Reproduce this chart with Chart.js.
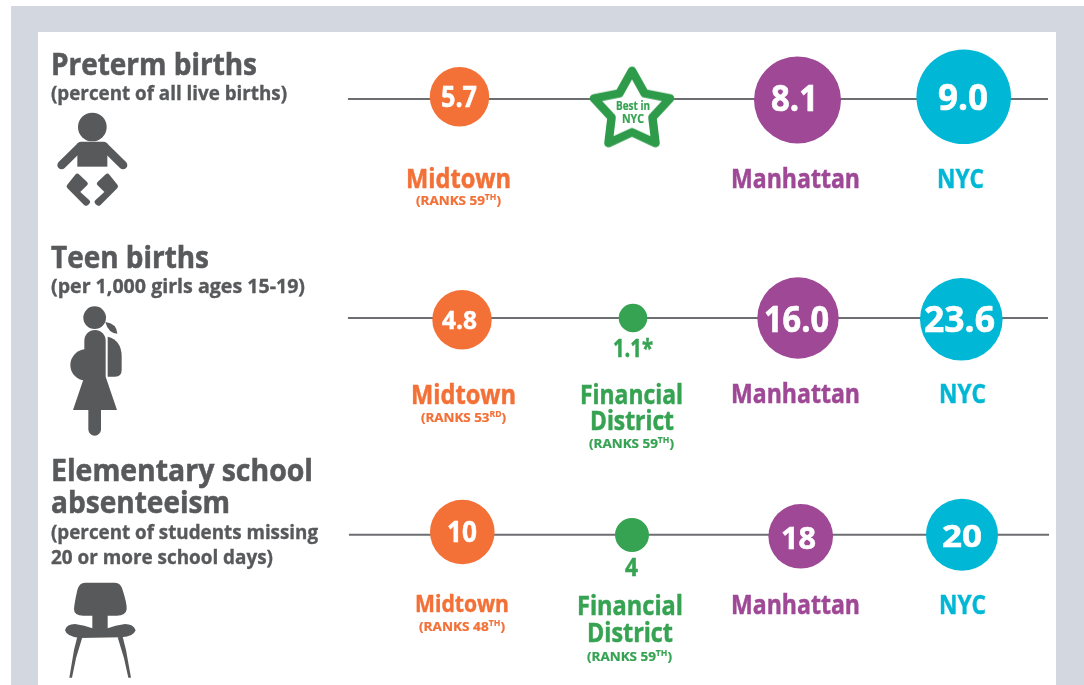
<!DOCTYPE html>
<html>
<head>
<meta charset="utf-8">
<script src="https://cdn.jsdelivr.net/npm/chart.js@4"></script>
<style>
	html, body { margin: 0; padding: 0; background: #fff; overflow: hidden; }
	#panel { position: absolute; left: 11px; top: 6px; width: 1073px; height: 679px; background: #d3d7df; }
	#card { position: absolute; left: 38px; top: 32px; width: 1018px; height: 653px; background: #fff; }
	canvas { position: absolute; left: 0; top: 0; }
</style>
</head>
<body>
<div id="panel"></div>
<div id="card"></div>
<canvas id="chart" width="1084" height="685"></canvas>
<script>
// chart values, null = not a number in the source (shown as the star)
const categories = ['Midtown', 'Financial District', 'Manhattan', 'NYC'];
const pretermBirths = [5.7, null, 8.1, 9.0];
const teenBirths = [4.8, 1.1, 16.0, 23.6];
const absenteeism = [10, 4, 18, 20];
const valueDigits = [1, 1, 0];

// styles and layout, kept apart from the values
const colors = ['#f37037', '#36a352', '#9e4896', '#00b7d5'];
const grey = '#58595b';
const bubbleRadius = [
	[29.7, 0, 43.5, 47.3],
	[29.7, 14.3, 40.7, 41.3],
	[32.3, 17, 32.3, 36],
];
// hand placed offsets in px, the original is not on a strict grid
const bubbleNudge = [
	[[-1.5, -2], [4, 12], [2.5, 1.3], [1.7, -1.9]],
	[[1, 3], [5, 1.3], [3, 1.3], [-0.7, 2.6]],
	[[1.3, -2.7], [4, 0.3], [5.7, 1.6], [0, 0.1]],
];
const lineNudge = [0.3, 1.3, 0];
const lineFrom = [-0.677, -0.677, -0.671];
const lineTo = [3.515, 3.515, 3.521];
const font = '"Open Sans", sans-serif';

// x: column 0 sits at 461px, 167px per column. y: row 0 sits at 98.7px, 218px per row
const xScale = { type: 'linear', display: false, min: -461 / 167, max: (1084 - 461) / 167 };
const yScale = { type: 'linear', display: false, reverse: true, min: -98.7 / 218, max: (685 - 98.7) / 218 };

const rows = [pretermBirths, teenBirths, absenteeism];

const makeStar = () => {
	const c = document.createElement('canvas');
	c.width = 100;
	c.height = 100;
	const g = c.getContext('2d');
	g.beginPath();
	for (let i = 0; i < 10; i++) {
		const r = i % 2 ? 21.5 : 40;
		const a = -Math.PI / 2 + i * Math.PI / 5;
		const px = 50 + r * Math.cos(a);
		const py = 50 + r * Math.sin(a);
		if (i === 0) g.moveTo(px, py);
		else g.lineTo(px, py);
	}
	g.closePath();
	g.fillStyle = '#fff';
	g.fill();
	g.lineWidth = 8.5;
	g.lineJoin = 'round';
	g.strokeStyle = '#2e9b4a';
	g.stroke();
	return c;
};

const datasets = [];
rows.forEach((values, row) => {
	datasets.push({
		type: 'bubble',
		order: 1,
		nudge: bubbleNudge[row],
		data: values.map((v, col) => ({ x: col, y: row, r: v === null ? 0 : bubbleRadius[row][col] })),
		backgroundColor: colors,
		borderWidth: 0,
	});
	datasets.push({
		type: 'line',
		order: 3,
		nudge: [[0, lineNudge[row]], [0, lineNudge[row]]],
		data: [{ x: lineFrom[row], y: row }, { x: lineTo[row], y: row }],
		borderColor: '#6d6e71',
		borderWidth: 2,
		pointRadius: 0,
	});
});
// the star for "Best in NYC"
datasets.push({
	type: 'line',
	order: 0,
	showLine: false,
	nudge: [bubbleNudge[0][1]],
	data: [{ x: 1, y: 0 }],
	pointStyle: makeStar(),
	pointRadius: 40,
});

// text helper: squeeze a string to the left/right it has in the picture
// the thin stroke brings Open Sans Bold closer to the weight of the original
const fit = (ctx, text, left, right, base, size, color) => {
	ctx.save();
	ctx.font = 'bold ' + size + 'px ' + font;
	ctx.fillStyle = color;
	ctx.strokeStyle = color;
	ctx.lineWidth = size * 0.018;
	ctx.textAlign = 'left';
	ctx.textBaseline = 'alphabetic';
	const w = ctx.measureText(text).width;
	ctx.translate(left, base);
	ctx.scale((right - left) / w, 1);
	ctx.fillText(text, 0, 0);
	ctx.strokeText(text, 0, 0);
	ctx.restore();
};

// "(RANKS 59TH)" with a raised suffix
const rank = (ctx, num, sup, left, right, base, color) => {
	const parts = [['(RANKS ' + num, 12.5, 0], [sup, 8, -5], [')', 12.5, 0]];
	let total = 0;
	parts.forEach((p) => {
		ctx.font = 'bold ' + p[1] + 'px ' + font;
		p.push(ctx.measureText(p[0]).width);
		total += p[3];
	});
	const k = (right - left) / total;
	let x = left;
	parts.forEach((p) => {
		fit(ctx, p[0], x, x + p[3] * k, base + p[2], p[1], color);
		x += p[3] * k;
	});
};

const poly = (ctx, pts) => {
	ctx.beginPath();
	pts.forEach((p, i) => (i ? ctx.lineTo(p[0], p[1]) : ctx.moveTo(p[0], p[1])));
	ctx.closePath();
};

// icons are traced at 3x, same as the zoomed crops
const baby = (ctx) => {
	ctx.beginPath();
	ctx.arc(277, 381, 43, 0, Math.PI * 2);
	ctx.fill();
	ctx.lineCap = 'round';
	ctx.lineJoin = 'round';
	ctx.lineWidth = 26;
	ctx.beginPath();
	ctx.moveTo(185, 495);
	ctx.lineTo(243, 438);
	ctx.lineTo(311, 438);
	ctx.lineTo(369, 495);
	ctx.stroke();
	ctx.fillRect(232, 430, 90, 70);
	[0, 1].forEach((m) => {
		ctx.save();
		if (m) {
			ctx.translate(554, 0);
			ctx.scale(-1, 1);
		}
		ctx.lineWidth = 16;
		poly(ctx, [[232, 529], [255, 551], [229, 576], [262, 606], [258, 609], [208, 559]]);
		ctx.fill();
		ctx.stroke();
		ctx.restore();
	});
};

const girl = (ctx) => {
	ctx.beginPath();
	ctx.arc(284, 263, 34, 0, Math.PI * 2);
	ctx.fill();
	// ponytail
	ctx.beginPath();
	ctx.moveTo(316, 276);
	ctx.quadraticCurveTo(350, 280, 352, 311);
	ctx.quadraticCurveTo(325, 310, 316, 276);
	ctx.fill();
	// belly
	ctx.beginPath();
	ctx.arc(258, 405, 47, 0, Math.PI * 2);
	ctx.fill();
	// body and skirt
	ctx.beginPath();
	ctx.moveTo(253, 332);
	ctx.arc(285, 332, 32, Math.PI, 0);
	ctx.lineTo(317, 440);
	ctx.lineTo(351, 540);
	ctx.lineTo(219, 540);
	ctx.lineTo(253, 440);
	ctx.closePath();
	ctx.fill();
	// leg
	ctx.lineCap = 'round';
	ctx.lineWidth = 38;
	ctx.beginPath();
	ctx.moveTo(284, 530);
	ctx.lineTo(284, 598);
	ctx.stroke();
	// backpack
	ctx.beginPath();
	ctx.moveTo(323, 320);
	ctx.quadraticCurveTo(365, 330, 365, 380);
	ctx.lineTo(365, 420);
	ctx.quadraticCurveTo(365, 440, 345, 440);
	ctx.lineTo(323, 440);
	ctx.closePath();
	ctx.fill();
};

const chair = (ctx) => {
	// back
	ctx.beginPath();
	ctx.moveTo(255, 398);
	ctx.lineTo(345, 398);
	ctx.quadraticCurveTo(362, 398, 368, 420);
	ctx.quadraticCurveTo(382, 465, 380, 478);
	ctx.quadraticCurveTo(378, 497, 350, 497);
	ctx.lineTo(250, 497);
	ctx.quadraticCurveTo(222, 497, 222, 478);
	ctx.quadraticCurveTo(222, 465, 232, 420);
	ctx.quadraticCurveTo(238, 398, 255, 398);
	ctx.fill();
	ctx.fillRect(277, 490, 46, 60);
	// seat
	ctx.beginPath();
	ctx.moveTo(195, 541);
	ctx.quadraticCurveTo(200, 522, 225, 522);
	ctx.quadraticCurveTo(255, 526, 277, 535);
	ctx.lineTo(323, 535);
	ctx.quadraticCurveTo(345, 526, 375, 522);
	ctx.quadraticCurveTo(400, 522, 407, 541);
	ctx.quadraticCurveTo(400, 560, 365, 562);
	ctx.lineTo(240, 564);
	ctx.quadraticCurveTo(200, 560, 195, 541);
	ctx.fill();
	// legs
	poly(ctx, [[232, 560], [247, 562], [228, 625], [216, 683], [208, 683], [222, 600]]);
	ctx.fill();
	poly(ctx, [[368, 560], [353, 562], [372, 625], [385, 683], [393, 683], [378, 600]]);
	ctx.fill();
};

const icon = (ctx, draw, offsetY) => {
	ctx.save();
	ctx.scale(1 / 3, 1 / 3);
	ctx.translate(0, offsetY * 3);
	ctx.fillStyle = grey;
	ctx.strokeStyle = grey;
	draw(ctx);
	ctx.restore();
};

const valueText = (row, col) => {
	const v = rows[row][col];
	return v.toFixed(valueDigits[row]);
};

// moves finished elements by the hand placed offsets
const nudgePlugin = {
	id: 'nudge',
	afterDatasetsUpdate(chart) {
		chart.data.datasets.forEach((ds, i) => {
			chart.getDatasetMeta(i).data.forEach((el, j) => {
				el.x += ds.nudge[j][0];
				el.y += ds.nudge[j][1];
			});
		});
	},
};

const textPlugin = {
	id: 'texts',
	afterDraw(chart) {
		const ctx = chart.ctx;
		// headings
		fit(ctx, 'Preterm births', 51, 257, 75, 30, grey);
		fit(ctx, '(percent of all live births)', 51, 287, 100, 20, grey);
		fit(ctx, 'Teen births', 51, 209, 268, 30, grey);
		fit(ctx, '(per 1,000 girls ages 15-19)', 51, 305, 293, 20, grey);
		fit(ctx, 'Elementary school', 51, 313, 481, 30, grey);
		fit(ctx, 'absenteeism', 51, 230, 513, 30, grey);
		fit(ctx, '(percent of students missing', 51, 318, 539, 20, grey);
		fit(ctx, '20 or more school days)', 51, 273, 564, 20, grey);

		icon(ctx, baby, 0);
		icon(ctx, girl, 230);
		icon(ctx, chair, 450);

		// values inside the bubbles
		fit(ctx, valueText(0, 0), 441, 477, 107, 28, '#fff');
		fit(ctx, valueText(0, 2), 771, 818, 111, 36, '#fff');
		fit(ctx, valueText(0, 3), 938, 988, 110, 36, '#fff');
		fit(ctx, valueText(1, 0), 442, 477, 329, 25, '#fff');
		fit(ctx, valueText(1, 1) + '*', 613, 653, 357, 25, colors[1]);
		fit(ctx, valueText(1, 2), 764, 829, 332, 35, '#fff');
		fit(ctx, valueText(1, 3), 924, 995, 332, 35, '#fff');
		fit(ctx, valueText(2, 0), 447, 477, 542, 29, '#fff');
		fit(ctx, valueText(2, 1), 625, 638, 576, 25, colors[1]);
		fit(ctx, valueText(2, 2), 781, 816, 549, 31, '#fff');
		fit(ctx, valueText(2, 3), 942, 982, 547, 31, '#fff');

		// star caption
		fit(ctx, 'Best in', 616, 650, 110, 13, colors[1]);
		fit(ctx, 'NYC', 622, 644, 123, 13, colors[1]);

		// row 1 names
		fit(ctx, categories[0], 406, 511, 188, 26, colors[0]);
		rank(ctx, '59', 'TH', 416, 501, 205, colors[0]);
		fit(ctx, categories[2], 731, 860, 188, 26, colors[2]);
		fit(ctx, categories[3], 937, 984, 188, 26, colors[3]);

		// row 2 names
		const fd = categories[1].split(' ');
		fit(ctx, categories[0], 411, 516, 404, 26, colors[0]);
		rank(ctx, '53', 'RD', 421, 506, 422, colors[0]);
		fit(ctx, fd[0], 580, 683, 404, 26, colors[1]);
		fit(ctx, fd[1], 590, 674, 430, 26, colors[1]);
		rank(ctx, '59', 'TH', 589, 674, 448, colors[1]);
		fit(ctx, categories[2], 731, 860, 403, 26, colors[2]);
		fit(ctx, categories[3], 939, 986, 403, 26, colors[3]);

		// row 3 names
		fit(ctx, categories[0], 415, 509, 612, 24, colors[0]);
		rank(ctx, '48', 'TH', 419, 505, 631, colors[0]);
		fit(ctx, fd[0], 577, 683, 615, 26, colors[1]);
		fit(ctx, fd[1], 587, 673, 642, 26, colors[1]);
		rank(ctx, '59', 'TH', 587, 672, 661, colors[1]);
		fit(ctx, categories[2], 731, 860, 614, 26, colors[2]);
		fit(ctx, categories[3], 939, 986, 614, 26, colors[3]);
	},
};

new Chart(document.getElementById('chart'), {
	type: 'bubble',
	data: { datasets },
	plugins: [nudgePlugin, textPlugin],
	options: {
		responsive: false,
		animation: false,
		layout: { padding: 0, autoPadding: false },
		scales: { x: xScale, y: yScale },
		plugins: { legend: { display: false }, tooltip: { enabled: false } },
	},
});
</script>
</body>
</html>
